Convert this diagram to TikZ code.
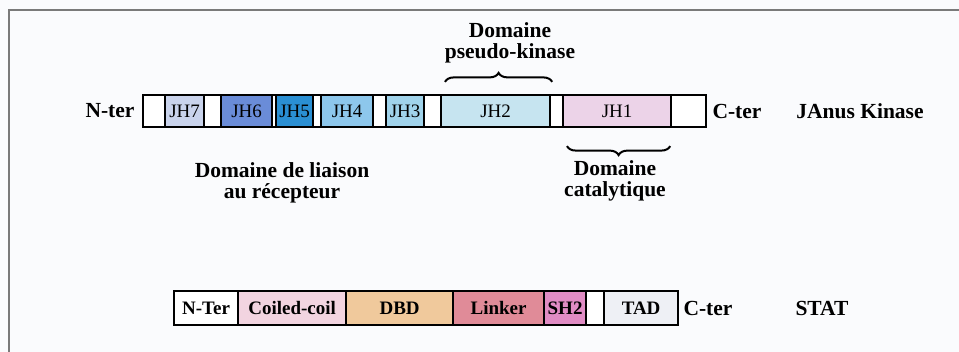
\documentclass[tikz,border=0pt]{standalone}
\usepackage{fontspec}
\setmainfont{Liberation Serif}
\usetikzlibrary{decorations.pathreplacing}
\definecolor{cjhseven}{HTML}{C9D3EC}
\definecolor{cjhsix}{HTML}{6A8CD8}
\definecolor{cjhfive}{HTML}{2A8FD3}
\definecolor{cjhfour}{HTML}{8DC7EC}
\definecolor{cjhthree}{HTML}{A0D3EB}
\definecolor{cjhtwo}{HTML}{C6E4F0}
\definecolor{cjhone}{HTML}{ECD3E8}
\definecolor{ccoil}{HTML}{F2D4E0}
\definecolor{cdbd}{HTML}{F0C99C}
\definecolor{clink}{HTML}{E08B98}
\definecolor{csht}{HTML}{E08CC4}
\definecolor{ctad}{HTML}{EEF0F5}
\definecolor{cframe}{HTML}{7A7A7A}
\definecolor{cbg}{HTML}{FAFBFD}
\tikzset{
  seg/.style={draw=black, line width=2.2pt, anchor=west, inner sep=0pt, minimum height=32pt, fill=white},
  sseg/.style={seg, minimum height=34pt, font=\fontsize{19}{21}\selectfont\bfseries},
  jlab/.style={font=\fontsize{19}{21}\selectfont},
  lab/.style={font=\fontsize{21.5}{21}\selectfont\bfseries, align=center},
  brc/.style={draw=black, line width=2pt, decorate, decoration={brace, amplitude=9pt}}
}
\begin{document}
\begin{tikzpicture}[x=1pt, y=-1pt]
\useasboundingbox (0,0) rectangle (959,352);
\fill[cbg] (0,0) rectangle (959,352);
\draw[cframe, line width=2pt] (9,362) -- (9,10) -- (970,10);
% JAK
\def\yj{111}
\node[seg, minimum width=22pt] (n0) at (142,\yj) {};
\node[seg, jlab, fill=cjhseven, minimum width=39pt] (jh7) at (164,\yj) {JH7};
\node[seg, minimum width=17pt] (w1) at (203,\yj) {};
\node[seg, jlab, fill=cjhsix, minimum width=51pt] (jh6) at (220,\yj) {JH6};
\node[seg, minimum width=4pt] (w2) at (271,\yj) {};
\node[seg, jlab, fill=cjhfive, minimum width=37pt] (jh5) at (275,\yj) {JH5};
\node[seg, minimum width=8pt] (w3) at (312,\yj) {};
\node[seg, jlab, fill=cjhfour, minimum width=52pt] (jh4) at (320,\yj) {JH4};
\node[seg, minimum width=13pt] (w4) at (372,\yj) {};
\node[seg, jlab, fill=cjhthree, minimum width=38pt] (jh3) at (385,\yj) {JH3};
\node[seg, minimum width=17pt] (w5) at (423,\yj) {};
\node[seg, jlab, fill=cjhtwo, minimum width=109pt] (jh2) at (440,\yj) {JH2};
\node[seg, minimum width=13pt] (w6) at (549,\yj) {};
\node[seg, jlab, fill=cjhone, minimum width=108pt] (jh1) at (562,\yj) {JH1};
\node[seg, minimum width=35pt] (w7) at (670,\yj) {};
\node[lab, anchor=east] (nter) at (138,\yj) {N-ter};
\node[lab, anchor=west] (cter) at (709,\yj) {C-ter};
\node[lab] (jak) at (860,\yj) {JAnus Kinase};
\draw[brc] ([xshift=5pt, yshift=12pt]jh2.north west) -- ([xshift=1pt, yshift=12pt]jh2.north east);
\draw[brc] ([xshift=-2pt, yshift=-18pt]jh1.south east) -- ([xshift=5pt, yshift=-18pt]jh1.south west);
\node[lab] (pk) at (510,43) {Domaine\\pseudo-kinase};
\node[lab] (cat) at (615,181) {Domaine\\catalytique};
\node[lab] (rec) at (282,183) {Domaine de liaison\\au récepteur};
% STAT
\def\ys{308}
\node[sseg, minimum width=64pt] (snter) at (173,\ys) {N-Ter};
\node[sseg, fill=ccoil, minimum width=108pt] (coil) at (237,\ys) {Coiled-coil};
\node[sseg, fill=cdbd, minimum width=107pt] (dbd) at (345,\ys) {DBD};
\node[sseg, fill=clink, minimum width=91pt] (link) at (452,\ys) {Linker};
\node[sseg, fill=csht, minimum width=42pt] (sh2) at (543,\ys) {SH2};
\node[sseg, minimum width=18pt] (sw) at (585,\ys) {};
\node[sseg, fill=ctad, minimum width=74pt] (tad) at (603,\ys) {TAD};
\node[lab, anchor=west] (scter) at (680,\ys) {C-ter};
\node[lab] (stat) at (822,\ys) {STAT};
\end{tikzpicture}
\end{document}
